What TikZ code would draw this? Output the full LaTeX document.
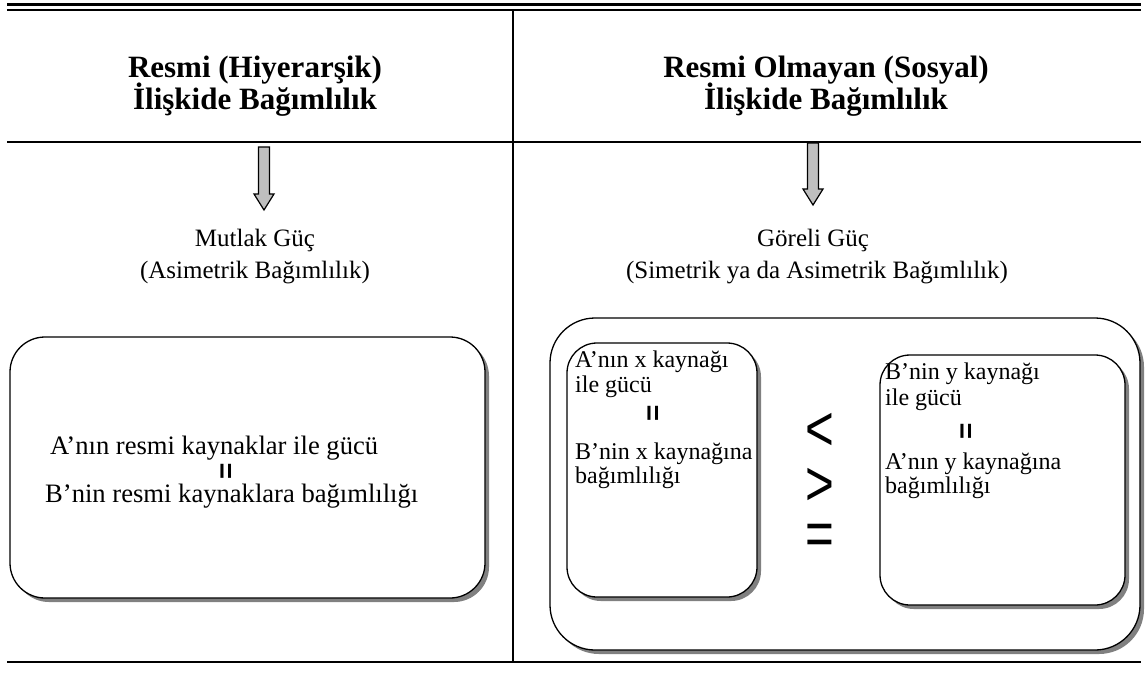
\documentclass[tikz,border=0pt]{standalone}
\usepackage{fontspec}
\usepackage{graphicx}
\setmainfont{Liberation Serif}
\newfontfamily\arialf{Liberation Sans}
\usetikzlibrary{shadows}
\begin{document}
\begin{tikzpicture}[x=1pt,y=-1pt,
  rule/.style={line width=2.2pt},
  titletext/.style={font=\fontsize{31}{31}\selectfont\bfseries, anchor=base, inner sep=0pt},
  subtext/.style={font=\fontsize{25}{26}\selectfont, anchor=base, inner sep=0pt},
  bodytext/.style={font=\fontsize{26.6}{28}\selectfont, anchor=base west, inner sep=0pt},
  smalltext/.style={font=\fontsize{24}{25}\selectfont, anchor=base west, inner sep=0pt},
  eqrot/.style={font=\arialf\bfseries\fontsize{28}{28}\selectfont, rotate=90, inner sep=0pt},
  relsym/.style={font=\arialf\fontsize{58}{58}\selectfont, inner sep=0pt},
  rbox/.style={draw, line width=1.3pt, fill=white, rectangle, inner sep=0pt,
     drop shadow={shadow xshift=4pt, shadow yshift=-4pt, fill=black!50, opacity=1}},
  blockarrow/.style={draw, line width=1.2pt, fill=black!25, line join=miter}
]
\useasboundingbox (0,0) rectangle (1147,689);
% table rules
\draw[line width=3pt] (7,4) -- (1141,4);
\draw[line width=2pt] (7,10) -- (1141,10);
\draw[rule] (7,142) -- (1141,142);
\draw[rule] (7,662) -- (1141,662);
\draw[rule] (513,11) -- (513,662);
% headers
\node[titletext] (h1a) at (255,77) {Resmi (Hiyerarşik)};
\node[titletext] (h1b) at (255,109) {İlişkide Bağımlılık};
\node[titletext] (h2a) at (826,77) {Resmi Olmayan (Sosyal)};
\node[titletext] (h2b) at (826,109) {İlişkide Bağımlılık};
% block arrows
\draw[blockarrow] (258.5,147) -- (269.5,147) -- (269.5,194) -- (274,194) -- (264,210) -- (254,194) -- (258.5,194) -- cycle;
\draw[blockarrow] (807.5,143) -- (818.5,143) -- (818.5,189) -- (823,189) -- (813,205) -- (803,189) -- (807.5,189) -- cycle;
% sub headers
\node[subtext] (s1a) at (255,246) {Mutlak Güç};
\node[subtext] (s1b) at (255,278) {(Asimetrik Bağımlılık)};
\node[subtext] (s2a) at (813,246) {Göreli Güç};
\node[subtext] (s2b) at (817,278) {(Simetrik ya da Asimetrik Bağımlılık)};
% left box
\node[rbox, rounded corners=35pt, minimum width=475pt, minimum height=261pt] (lbox) at (247.5,467.5) {};
\node[bodytext] (la) at (50,454) {A’nın resmi kaynaklar ile gücü};
\node[eqrot] (leq) at (228,471) {=};
\node[bodytext] (lb) at (45,502) {B’nin resmi kaynaklara bağımlılığı};
% right outer box
\node[rbox, rounded corners=45pt, minimum width=590pt, minimum height=332pt] (obox) at (845,484) {};
% inner left box
\node[rbox, rounded corners=30pt, minimum width=190pt, minimum height=254pt] (ibl) at (662,470) {};
\node[smalltext] (a1) at (575,367) {A’nın x kaynağı};
\node[smalltext] (a2) at (575,392) {ile gücü};
\node[eqrot] (aeq) at (655,413) {=};
\node[smalltext] (a3) at (575,459) {B’nin x kaynağına};
\node[smalltext] (a4) at (575,483) {bağımlılığı};
% inner right box
\node[rbox, rounded corners=30pt, minimum width=245pt, minimum height=250pt] (ibr) at (1002.5,480) {};
\node[smalltext] (b1) at (885,379) {B’nin y kaynağı};
\node[smalltext] (b2) at (885,405) {ile gücü};
\node[eqrot] (beq) at (968,431) {=};
\node[smalltext] (b3) at (885,469) {A’nın y kaynağına};
\node[smalltext] (b4) at (885,493) {bağımlılığı};
% relation symbols
\node[relsym] (lt) at (820,432) {\scalebox{0.85}[1.1]{<}};
\node[relsym] (gt) at (820,487) {\scalebox{0.85}[1.1]{>}};
\node[relsym] (eq) at (820,540) {\scalebox{0.85}[1.1]{=}};
\end{tikzpicture}
\end{document}
